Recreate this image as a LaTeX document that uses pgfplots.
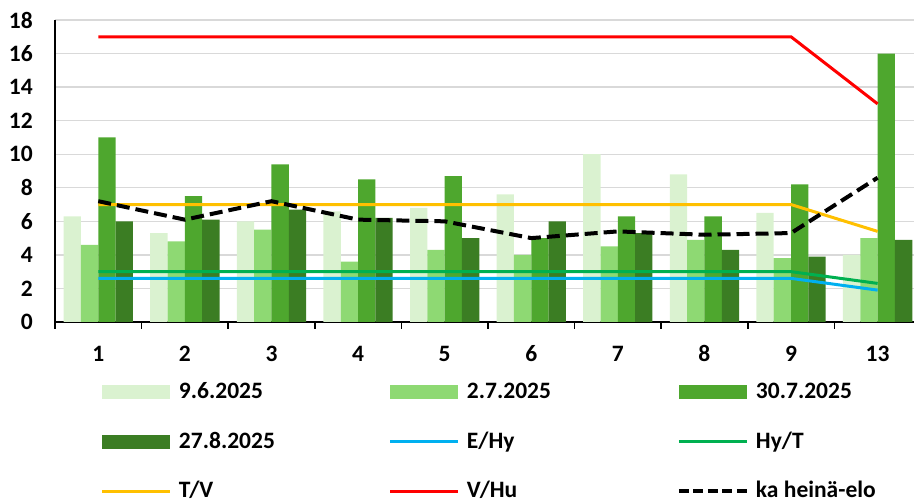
\documentclass[border=0pt]{standalone}
\usepackage{fontspec}
\setmainfont{Carlito}
\usepackage{pgfplots}
\pgfplotsset{compat=1.18}

\definecolor{c1}{HTML}{DAF2D0}
\definecolor{c2}{HTML}{8ED973}
\definecolor{c3}{HTML}{4EA72E}
\definecolor{c4}{HTML}{3B7D23}
\definecolor{lEHy}{HTML}{00B0F0}
\definecolor{lHyT}{HTML}{00B050}
\definecolor{lTV}{HTML}{FFC000}
\definecolor{lVHu}{HTML}{FF0000}
\definecolor{gridgray}{HTML}{D9D9D9}

\newcommand{\lblfont}{\fontsize{23.5}{28}\selectfont\bfseries}

\pgfplotsset{
  barleg/.style={legend image code/.code={%
      \fill[##1,draw=none] (0pt,-7pt) rectangle (68pt,7pt);
      \path (75pt,0pt);}},
  lineleg/.style={legend image code/.code={%
      \draw[##1] (0pt,0pt) -- (68pt,0pt);
      \path (75pt,0pt);}},
  dashleg/.style={legend image code/.code={%
      \draw[black,line width=4pt,dash pattern=on 10pt off 4.5pt] (0pt,0pt) -- (68pt,0pt);
      \path (75pt,0pt);}},
}

\begin{document}
\begin{tikzpicture}[x=1pt,y=1pt]
\useasboundingbox (0,0) rectangle (914,503);
\begin{axis}[
  at={(55pt,181pt)}, anchor=south west,
  scale only axis, width=859pt, height=302pt,
  xmin=-0.5, xmax=9.42, ymin=0, ymax=18,
  axis lines*=left,
  axis line style={black, line width=1.6pt},
  xtick={0,...,9},
  xticklabels={1,2,3,4,5,6,7,8,9,13},
  minor xtick={-0.5,0.5,...,8.5},
  ytick={0,2,...,18},
  major tick length=0pt,
  minor tick length=7pt,
  tick align=outside,
  tick style={black, line width=1.6pt},
  ytick style={draw=none},
  ymajorgrids,
  grid style={gridgray, line width=1.4pt},
  /pgf/number format/assume math mode=true,
  ticklabel style={font=\lblfont},
  yticklabel style={inner sep=0pt, anchor=east, xshift=-22pt},
  xticklabel style={inner sep=0pt, anchor=base, yshift=-39.7pt},
  legend columns=3,
  legend cell align=left,
  legend style={
    at={(axis description cs:0.05355,-0.19536)}, anchor=north west,
    draw=none, fill=none, inner sep=0pt, outer sep=0pt,
    column sep=0pt, row sep=26.5pt,
    font=\lblfont,
    nodes={inner sep=0pt, text height=18pt, text depth=5pt},
  },
]
% monthly samples
\addplot[ybar, bar width=17.32pt, bar shift=-25.98pt, fill=c1, draw=none, barleg]
  coordinates {(0,6.3) (1,5.3) (2,6.0) (3,6.6) (4,6.8) (5,7.6) (6,10.0) (7,8.8) (8,6.5) (9,4.0)};
\addlegendentry{\makebox[210pt][l]{9.6.2025}}
\addplot[ybar, bar width=17.32pt, bar shift=-8.66pt, fill=c2, draw=none, barleg]
  coordinates {(0,4.6) (1,4.8) (2,5.5) (3,3.6) (4,4.3) (5,4.0) (6,4.5) (7,4.9) (8,3.8) (9,5.0)};
\addlegendentry{\makebox[210pt][l]{2.7.2025}}
\addplot[ybar, bar width=17.32pt, bar shift=8.66pt, fill=c3, draw=none, barleg]
  coordinates {(0,11.0) (1,7.5) (2,9.4) (3,8.5) (4,8.7) (5,5.0) (6,6.3) (7,6.3) (8,8.2) (9,16.0)};
\addlegendentry{30.7.2025}
\addplot[ybar, bar width=17.32pt, bar shift=25.98pt, fill=c4, draw=none, barleg]
  coordinates {(0,6.0) (1,6.1) (2,6.7) (3,6.2) (4,5.0) (5,6.0) (6,5.3) (7,4.3) (8,3.9) (9,4.9)};
\addlegendentry{\makebox[210pt][l]{27.8.2025}}
% class limits
\addplot[lEHy, line width=3pt, lineleg]
  coordinates {(0,2.6) (1,2.6) (2,2.6) (3,2.6) (4,2.6) (5,2.6) (6,2.6) (7,2.6) (8,2.6) (9,1.9)};
\addlegendentry{\makebox[210pt][l]{E/Hy}}
\addplot[lHyT, line width=3pt, lineleg]
  coordinates {(0,3.0) (1,3.0) (2,3.0) (3,3.0) (4,3.0) (5,3.0) (6,3.0) (7,3.0) (8,3.0) (9,2.3)};
\addlegendentry{Hy/T}
\addplot[lTV, line width=3pt, lineleg]
  coordinates {(0,7.0) (1,7.0) (2,7.0) (3,7.0) (4,7.0) (5,7.0) (6,7.0) (7,7.0) (8,7.0) (9,5.4)};
\addlegendentry{\makebox[210pt][l]{T/V}}
\addplot[lVHu, line width=3pt, lineleg]
  coordinates {(0,17.0) (1,17.0) (2,17.0) (3,17.0) (4,17.0) (5,17.0) (6,17.0) (7,17.0) (8,17.0) (9,13.0)};
\addlegendentry{\makebox[210pt][l]{V/Hu}}
% July--August mean
\addplot[black, line width=4pt, dash pattern=on 13pt off 6pt, dashleg]
  coordinates {(0,7.2) (1,6.1) (2,7.2) (3,6.1) (4,6.0) (5,5.0) (6,5.4) (7,5.2) (8,5.3) (9,8.6)};
\addlegendentry{ka heinä-elo}
\end{axis}
\end{tikzpicture}
\end{document}
